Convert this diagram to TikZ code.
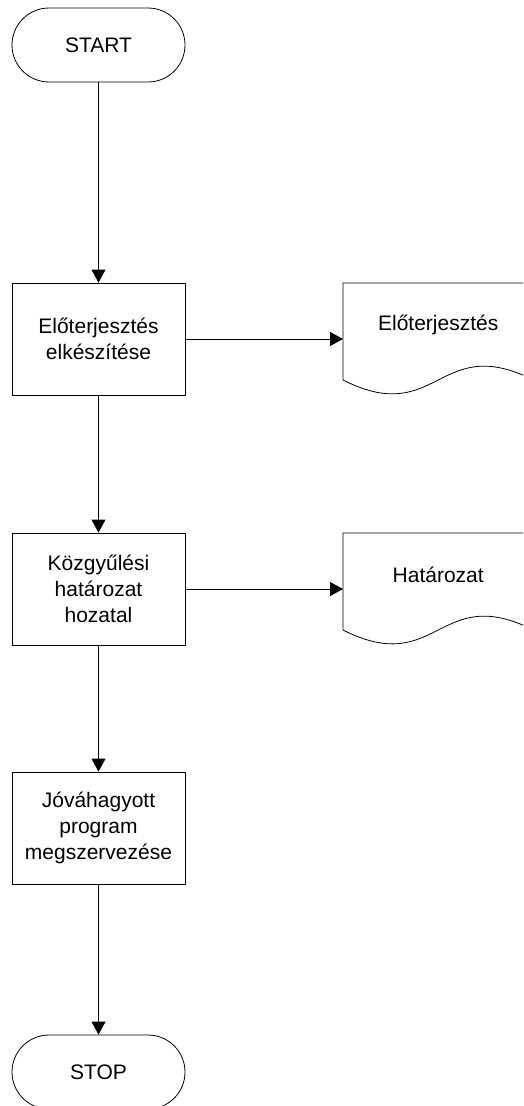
\documentclass[tikz,border=0pt]{standalone}
\usepackage{fontspec}
\setmainfont{Liberation Sans}
\usetikzlibrary{arrows.meta,positioning}
\begin{document}
\begin{tikzpicture}[x=1pt,y=-1pt,
  every node/.style={font=\fontsize{21}{26}\selectfont, align=center},
  line/.style={draw=black, line width=0.8pt},
  flow/.style={line, -{Triangle[length=13pt,width=14pt]}},
  terminal/.style={line, rectangle, rounded corners=37pt, minimum width=173pt, minimum height=74pt, inner sep=0pt},
  process/.style={line, rectangle, minimum width=173pt, minimum height=112pt, inner sep=0pt},
  docframe/.style={rectangle, minimum width=190pt, minimum height=112pt, inner sep=0pt, anchor=north west},
  doctext/.style={anchor=center}
]
\useasboundingbox (0,0) rectangle (523,1106);
\clip (0,0) rectangle (523,1106);

% main column
\node[terminal] (start) at (98.5,45) {START};
\node[process] (prep) at (98.5,339) {Előterjesztés\\elkészítése};
\node[process] (vote) at (98.5,589) {Közgyűlési\\határozat\\hozatal};
\node[process] (org) at (98.5,828) {Jóváhagyott\\program\\megszervezése};
\node[terminal] (stop) at (98.5,1072) {STOP};

% documents
\node[docframe] (doc1) at (343,283) {};
\node[doctext] (doc1t) at ([yshift=-42pt]doc1.north) {Előterjesztés};
\node[docframe] (doc2) at (343,533) {};
\node[doctext] (doc2t) at ([yshift=-42pt]doc2.north) {Határozat};

\foreach \d in {doc1,doc2}{
  \draw[line] ([yshift=-97pt]\d.north west) -- (\d.north west) -- (\d.north east) -- ([yshift=-97pt]\d.north east)
    .. controls +(-95,-48) and +(95,48) .. ([yshift=-97pt]\d.north west);
}

% connectors
\draw[flow] (start) -- (prep);
\draw[flow] (prep) -- (vote);
\draw[flow] (vote) -- (org);
\draw[flow] (org) -- (stop);
\draw[flow] (prep.east) -- (doc1.west |- prep.east);
\draw[flow] (vote.east) -- (doc2.west |- vote.east);
\end{tikzpicture}
\end{document}
